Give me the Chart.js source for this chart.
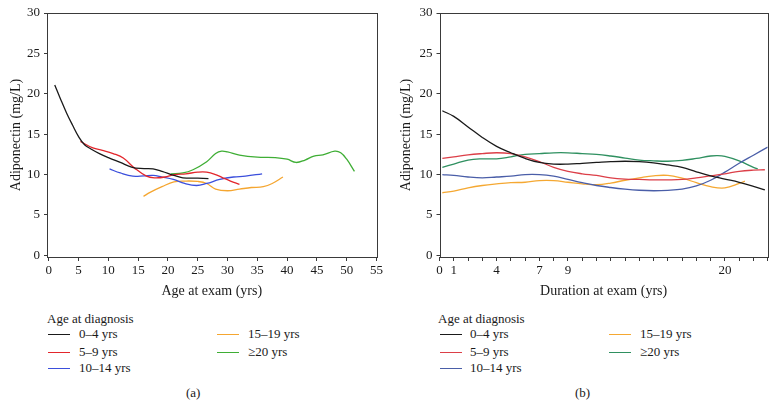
<!DOCTYPE html>
<html>
<head>
<meta charset="utf-8">
<script src="https://cdn.jsdelivr.net/npm/chart.js@4.4.1/dist/chart.umd.min.js"></script>
<style>
  body { margin: 0; background: #fff; width: 777px; height: 407px; overflow: hidden; position: relative;
         font-family: "Liberation Serif", serif; color: #1a1a1a; }
  .panel { position: absolute; top: 0; }
  .lg { position: absolute; font-size: 13px; line-height: 14px; white-space: nowrap; }
  .sw { position: absolute; height: 1.4px; }
</style>
</head>
<body>
<canvas id="chartA" class="panel" width="390" height="300" style="left:0"></canvas>
<canvas id="chartB" class="panel" width="387" height="300" style="left:390px"></canvas>
<div id="legends"></div>
<script>
// ---- data ----
var groups = ["0\u20134 yrs", "5\u20139 yrs", "10\u201314 yrs", "15\u201319 yrs", "\u226520 yrs"];

// panel (a): age at exam
var ageX_0_4 = [1.0, 2, 3, 4, 5, 6, 7, 8.5, 10, 12, 14, 16, 17.5, 19, 21, 22.5, 25, 26.8];
var ageY_0_4 = [21.1, 19.3, 17.6, 16.1, 14.7, 13.7, 13.2, 12.6, 12.1, 11.5, 10.9, 10.75, 10.7, 10.4, 9.9, 9.6, 9.55, 9.5];
var ageX_5_9 = [5.3, 7.4, 9, 10.8, 12.5, 14.4, 16.4, 17.8, 19.5, 21, 23, 25, 26.5, 28, 29.2, 30.5, 32];
var ageY_5_9 = [14.1, 13.3, 13.0, 12.6, 12.05, 10.8, 9.8, 9.6, 9.7, 10.0, 10.1, 10.3, 10.3, 10.0, 9.6, 9.2, 8.8];
var ageX_10_14 = [10.2, 12, 14.1, 16, 17.5, 19, 20.9, 22.8, 24.8, 26.5, 28.7, 31, 33, 35.8];
var ageY_10_14 = [10.7, 10.2, 9.8, 9.85, 9.9, 9.7, 9.4, 8.9, 8.65, 8.9, 9.4, 9.7, 9.8, 10.1];
var ageX_15_19 = [15.9, 17, 19, 21, 23, 25, 26.5, 28, 30, 32, 34, 36, 37.5, 39.3];
var ageY_15_19 = [7.3, 7.8, 8.5, 9.1, 9.2, 9.15, 8.9, 8.2, 8.0, 8.2, 8.4, 8.5, 8.9, 9.7];
var ageX_20 = [20.5, 22.5, 24.2, 26.5, 28, 29, 30, 32, 35, 38, 40, 41.5, 43, 44.5, 46, 48, 49, 50, 51.3];
var ageY_20 = [10.1, 10.2, 10.6, 11.6, 12.6, 12.9, 12.8, 12.4, 12.15, 12.1, 11.9, 11.5, 11.8, 12.3, 12.45, 12.9, 12.7, 11.9, 10.4];

// panel (b): duration at exam
var durX_0_4 = [0.2, 1, 2, 3, 4, 5, 6, 7, 8, 9, 10, 11, 12, 13, 14, 15, 16, 17, 18, 19, 20, 21, 22, 22.8];
var durY_0_4 = [17.9, 17.2, 15.9, 14.6, 13.5, 12.7, 12.0, 11.5, 11.3, 11.3, 11.4, 11.5, 11.6, 11.65, 11.6, 11.45, 11.2, 10.9, 10.35, 9.85, 9.45, 9.05, 8.55, 8.1];
var durX_5_9 = [0.2, 1, 2, 3, 4, 5, 6, 7, 8, 9, 10, 11, 12, 13, 14, 15, 16, 17, 18, 19, 20, 21, 22, 22.8];
var durY_5_9 = [12.0, 12.2, 12.45, 12.6, 12.7, 12.6, 12.2, 11.6, 10.9, 10.4, 10.1, 9.9, 9.6, 9.45, 9.4, 9.35, 9.35, 9.4, 9.6, 9.85, 10.1, 10.4, 10.55, 10.6];
var durX_10_14 = [0.2, 1, 2, 3, 4, 5, 6, 7, 8, 9, 10, 11, 12, 13, 14, 15, 16, 17, 18, 19, 20, 21, 22, 23];
var durY_10_14 = [10.0, 9.9, 9.7, 9.6, 9.7, 9.8, 10.0, 10.0, 9.8, 9.4, 9.0, 8.65, 8.4, 8.2, 8.06, 8.0, 8.05, 8.2, 8.6, 9.3, 10.3, 11.4, 12.4, 13.4];
var durX_15_19 = [0.2, 1, 2, 3, 4, 5, 6, 7, 8, 9, 10, 11, 12, 13, 14, 15, 16, 17, 18, 19, 20, 21, 21.4];
var durY_15_19 = [7.75, 7.95, 8.35, 8.65, 8.85, 9.0, 9.05, 9.25, 9.25, 9.05, 8.85, 8.75, 8.95, 9.3, 9.6, 9.85, 9.9, 9.55, 9.0, 8.5, 8.35, 8.9, 9.2];
var durX_20 = [0.2, 1, 2, 3, 4, 5, 6, 7, 8, 9, 10, 11, 12, 13, 14, 15, 16, 17, 18, 19, 19.5, 20, 21, 22, 22.3];
var durY_20 = [10.9, 11.3, 11.8, 11.95, 11.95, 12.2, 12.5, 12.6, 12.7, 12.7, 12.6, 12.5, 12.3, 12.05, 11.8, 11.7, 11.65, 11.75, 12.0, 12.3, 12.35, 12.25, 11.7, 10.9, 10.7];

// tick labels
var yTicks = [0, 5, 10, 15, 20, 25, 30];
var ageTicks = [0, 5, 10, 15, 20, 25, 30, 35, 40, 45, 50, 55];
var durTicks = [0, 1, 2, 3, 4, 5, 6, 7, 8, 9, 10, 11, 12, 13, 14, 15, 16, 17, 18, 19, 20, 21, 22, 23];
var durLabels = [0, 1, 4, 7, 9, 20];

// colours
var colorsA = ["#1a1a1a", "#e3262c", "#3b4fdc", "#f5a630", "#3fae35"];
var colorsB = ["#1a1a1a", "#dc3f48", "#4a5ea8", "#f5a832", "#2f9060"];

function pts(xs, ys) {
    return xs.map(function (x, i) { return { x: x, y: ys[i] }; });
}

var frame = {
    id: 'frame',
    afterDraw: function (chart) {
        var a = chart.chartArea, c = chart.ctx;
        c.save();
        c.strokeStyle = '#3a3a3a';
        c.lineWidth = 1;
        c.strokeRect(Math.round(a.left) + 0.5, Math.round(a.top) + 0.5, Math.round(a.right - a.left), Math.round(a.bottom - a.top));
        c.restore();
    }
};

var tickFont = { family: '"Liberation Serif", serif', size: 13 };
var titleFont = { family: '"Liberation Serif", serif', size: 14 };
var ink = '#1a1a1a';

function makeChart(id, data, colors, xOpts, yWidth, rightPad) {
    return new Chart(document.getElementById(id), {
        type: 'line',
        data: {
            datasets: data.map(function (d, i) {
                return {
                    label: groups[i],
                    data: d,
                    borderColor: colors[i],
                    borderWidth: 1.3,
                    pointRadius: 0,
                    fill: false,
                    tension: 0.4
                };
            })
        },
        options: {
            responsive: false,
            animation: false,
            layout: { padding: { top: 13, right: rightPad, left: 0, bottom: 0 } },
            plugins: { legend: { display: false }, tooltip: { enabled: false } },
            scales: {
                x: Object.assign({
                    type: 'linear',
                    position: 'bottom',
                    grid: { drawOnChartArea: false, drawTicks: true, tickLength: 4, color: '#3a3a3a' },
                    border: { display: false },
                    afterFit: function (s) { s.height = 43; }
                }, xOpts),
                y: {
                    min: -0.2, max: 30,
                    afterBuildTicks: function (s) { s.ticks = yTicks.map(function (v) { return { value: v }; }); },
                    grid: { drawOnChartArea: false, drawTicks: true, tickLength: 3, color: '#3a3a3a' },
                    border: { display: false },
                    ticks: { font: tickFont, color: ink, padding: 4 },
                    title: { display: true, text: 'Adiponectin (mg/L)', font: titleFont, color: ink, padding: { top: 8, bottom: 0 } },
                    afterFit: function (s) { s.width = yWidth; }
                }
            }
        },
        plugins: [frame]
    });
}

makeChart('chartA',
    [pts(ageX_0_4, ageY_0_4), pts(ageX_5_9, ageY_5_9), pts(ageX_10_14, ageY_10_14), pts(ageX_15_19, ageY_15_19), pts(ageX_20, ageY_20)],
    colorsA,
    {
        min: -0.3, max: 55,
        afterBuildTicks: function (s) { s.ticks = ageTicks.map(function (v) { return { value: v }; }); },
        ticks: { font: tickFont, color: ink, padding: 2, maxRotation: 0, autoSkip: false },
        title: { display: true, text: 'Age at exam (yrs)', font: titleFont, color: ink, padding: { top: 0, bottom: 0 } }
    }, 47, 13.5);

makeChart('chartB',
    [pts(durX_0_4, durY_0_4), pts(durX_5_9, durY_5_9), pts(durX_10_14, durY_10_14), pts(durX_15_19, durY_15_19), pts(durX_20, durY_20)],
    colorsB,
    {
        min: 0, max: 23,
        afterBuildTicks: function (s) { s.ticks = durTicks.map(function (v) { return { value: v }; }); },
        ticks: {
            font: tickFont, color: ink, padding: 2, maxRotation: 0, autoSkip: false,
            callback: function (v) { return durLabels.indexOf(v) >= 0 ? String(v) : ''; }
        },
        title: { display: true, text: 'Duration at exam (yrs)', font: titleFont, color: ink, padding: { top: 0, bottom: 0 } }
    }, 49.5, 9.3);

// legends below each panel
function legend(left, colors, lineX, textX, col2LineX, col2TextX, tag, tagX) {
    var box = document.getElementById('legends');
    var html = '<div class="lg" style="left:' + left + 'px;top:312px">Age at diagnosis</div>';
    var rows = [334, 352, 368, 334, 352];
    groups.forEach(function (g, i) {
        var lx = i < 3 ? lineX : col2LineX, tx = i < 3 ? textX : col2TextX;
        html += '<div class="sw" style="left:' + lx + 'px;width:22px;top:' + rows[i] + 'px;background:' + colors[i] + '"></div>';
        html += '<div class="lg" style="left:' + tx + 'px;top:' + (rows[i] - 7) + 'px">' + g + '</div>';
    });
    html += '<div class="lg" style="left:' + tagX + 'px;top:386px">' + tag + '</div>';
    box.insertAdjacentHTML('beforeend', html);
}
legend(47, colorsA, 48, 79, 217, 248, '(a)', 186);
legend(438, colorsB, 440, 470, 609, 640, '(b)', 575);
</script>
</body>
</html>
